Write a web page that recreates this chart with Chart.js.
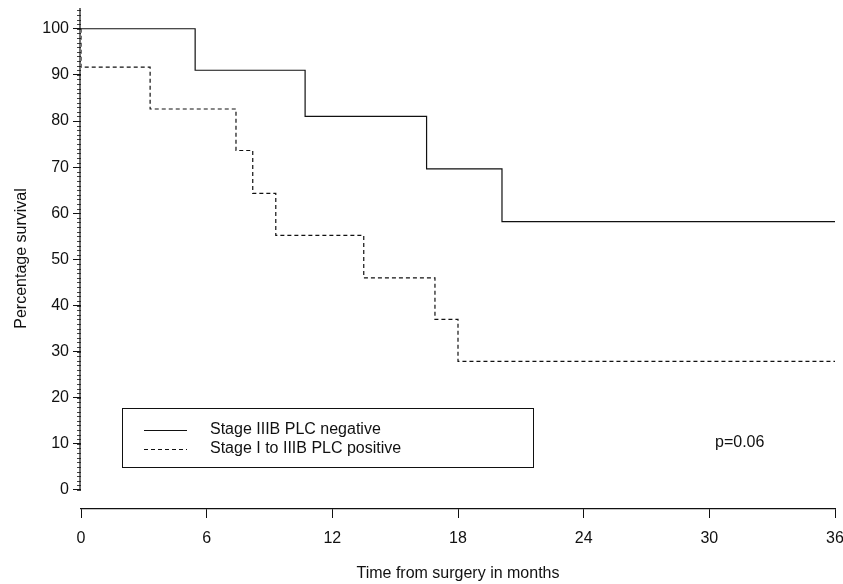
<!DOCTYPE html>
<html>
<head>
<meta charset="utf-8">
<script src="https://cdn.jsdelivr.net/npm/chart.js@4"></script>
<style>
    html, body { margin: 0; padding: 0; background: #fff; }
    #wrap { width: 843px; height: 584px; }
</style>
</head>
<body>
<div id="wrap"><canvas id="kmChart" width="843" height="584"></canvas></div>
<script>
// Data
const negTimes = [0, 5.45, 10.7, 16.5, 20.1, 36];
const negSurvival = [100, 91, 81, 69.6, 58.2, 58.2];
const posTimes = [0, 0, 3.3, 7.4, 8.2, 9.3, 13.5, 16.9, 18.0, 36];
const posSurvival = [100, 91.7, 82.6, 73.6, 64.3, 55.2, 46, 37, 27.9, 27.9];

const xTicks = [0, 6, 12, 18, 24, 30, 36];
const yTicks = [0, 10, 20, 30, 40, 50, 60, 70, 80, 90, 100];
const seriesLabels = ["Stage IIIB PLC negative", "Stage I to IIIB PLC positive"];
const pValue = "p=0.06";

const FONT = "'Liberation Sans', Arial, Helvetica, sans-serif";
const INK = "#111";

const toPoints = (xs, ys) => xs.map((x, i) => ({ x: x, y: ys[i] }));

// Y axis line, minor ticks, legend box, p value
const extras = {
    id: 'extras',
    afterDraw(chart) {
        const c = chart.ctx;
        const y = chart.scales.y;
        const left = chart.chartArea.left - 1;
        c.save();
        c.strokeStyle = INK;
        c.lineWidth = 1.2;
        c.beginPath();
        c.moveTo(left, y.getPixelForValue(0));
        c.lineTo(left, y.getPixelForValue(104.5));
        c.stroke();

        c.lineWidth = 0.8;
        c.beginPath();
        for (let v = 0; v <= 104; v++) {
            const py = Math.round(y.getPixelForValue(v)) + 0.5;
            c.moveTo(left - 3, py);
            c.lineTo(left + 1, py);
        }
        c.stroke();

        // legend
        c.lineWidth = 1;
        c.strokeRect(122.5, 408.5, 411, 59);
        const rows = [430, 449];
        chart.data.datasets.forEach((ds, i) => {
            c.beginPath();
            c.setLineDash(ds.borderDash || []);
            c.lineWidth = 1.2;
            c.moveTo(144, rows[i] + 0.5);
            c.lineTo(187, rows[i] + 0.5);
            c.stroke();
            c.setLineDash([]);
            c.fillStyle = INK;
            c.font = "16px " + FONT;
            c.textBaseline = 'middle';
            c.textAlign = 'left';
            c.fillText(ds.label, 210, rows[i]);
        });

        c.fillText(pValue, 715, 443);
        c.restore();
    }
};

new Chart(document.getElementById('kmChart'), {
    type: 'line',
    data: {
        datasets: [
            {
                label: seriesLabels[0],
                data: toPoints(negTimes, negSurvival),
                borderColor: INK,
                borderWidth: 1.2,
                stepped: 'before',
                pointRadius: 0,
                fill: false
            },
            {
                label: seriesLabels[1],
                data: toPoints(posTimes, posSurvival),
                borderColor: INK,
                borderWidth: 1.2,
                borderDash: [4, 3],
                stepped: 'before',
                pointRadius: 0,
                fill: false
            }
        ]
    },
    options: {
        responsive: false,
        animation: false,
        layout: { padding: { top: 8, right: 8, left: 0, bottom: 0 } },
        plugins: {
            legend: { display: false },
            tooltip: { enabled: false }
        },
        elements: { line: { tension: 0 } },
        scales: {
            x: {
                type: 'linear',
                min: 0,
                max: 36,
                afterBuildTicks: (s) => { s.ticks = xTicks.map(v => ({ value: v })); },
                afterFit: (s) => { s.height = 75; s.paddingLeft = 0; s.paddingRight = 0; },
                border: { display: true, color: INK, width: 1.2 },
                grid: { drawOnChartArea: false, tickLength: 9, color: INK, lineWidth: 1 },
                ticks: { color: INK, padding: 11, maxRotation: 0, font: { family: FONT, size: 16 } },
                title: {
                    display: true,
                    text: 'Time from surgery in months',
                    color: INK,
                    padding: { top: 0, bottom: 1 },
                    font: { family: FONT, size: 16 }
                }
            },
            y: {
                type: 'linear',
                min: -4.12,
                max: 104.5,
                afterBuildTicks: (s) => { s.ticks = yTicks.map(v => ({ value: v })); },
                afterFit: (s) => { s.width = 81; s.paddingTop = 0; s.paddingBottom = 0; },
                border: { display: false },
                grid: { drawOnChartArea: false, tickLength: 8, color: INK, lineWidth: 1 },
                ticks: { color: INK, padding: 4, font: { family: FONT, size: 16 } },
                title: {
                    display: true,
                    text: 'Percentage survival',
                    color: INK,
                    padding: { top: 12, bottom: 0 },
                    font: { family: FONT, size: 16 }
                }
            }
        }
    },
    plugins: [extras]
});
</script>
</body>
</html>
